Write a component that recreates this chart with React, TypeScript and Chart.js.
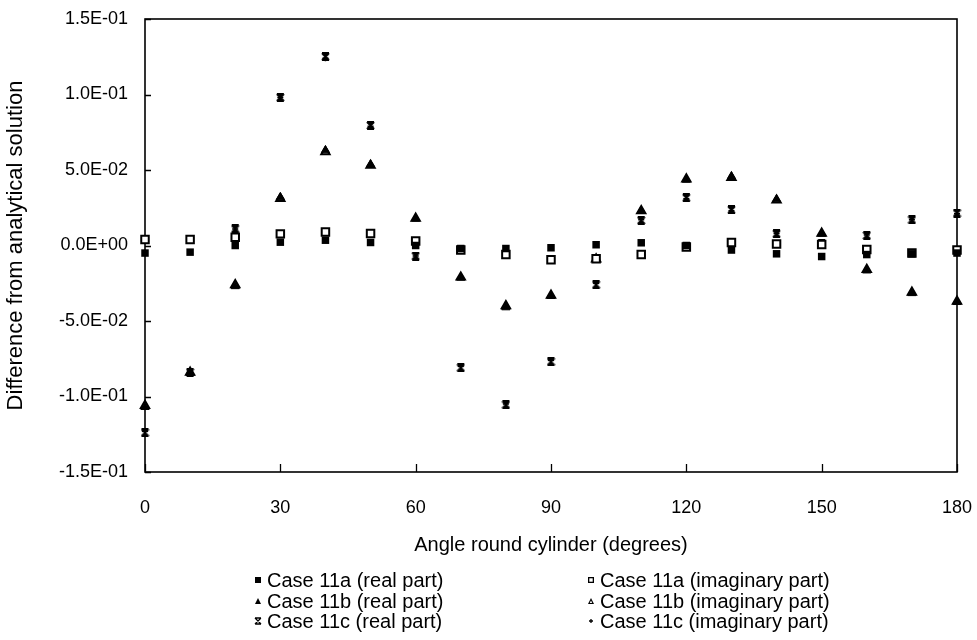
import React, { useEffect, useRef } from "react";
import { Chart, registerables } from "chart.js";

Chart.register(...registerables);

const angles = [0, 10, 20, 30, 40, 50, 60, 70, 80, 90, 100, 110, 120, 130, 140, 150, 160, 170, 180];

const case11aReal = [-0.005, -0.0044, 0.0, 0.0022, 0.0035, 0.002, 0.0, -0.002, -0.002, -0.0015, 0.0005, 0.0018, 0.0, -0.003, -0.0055, -0.0073, -0.006, -0.0055, -0.005];
const case11aImag = [0.004, 0.004, 0.0055, 0.0077, 0.009, 0.008, 0.003, -0.003, -0.006, -0.0095, -0.0088, -0.006, -0.001, 0.002, 0.001, 0.0007, -0.0026, -0.005, -0.003];
const case11bReal = [-0.107, -0.0845, -0.027, 0.032, 0.063, 0.0536, 0.0177, -0.0214, -0.041, -0.0335, -0.009, 0.023, 0.0435, 0.0457, 0.0305, 0.0077, -0.0166, -0.0316, -0.0375];
const case11bImag = [-0.106, -0.084, -0.026, 0.031, 0.062, 0.053, 0.018, -0.021, -0.04, -0.033, -0.009, 0.023, 0.044, 0.045, 0.03, 0.008, -0.016, -0.031, -0.037];
const case11cReal = [-0.124, -0.084, 0.011, 0.098, 0.125, 0.0795, -0.007, -0.081, -0.1055, -0.077, -0.026, 0.0166, 0.0316, 0.0236, 0.0077, 0.001, 0.0066, 0.017, 0.0214];
const case11cImag = [-0.123, -0.084, 0.011, 0.098, 0.124, 0.079, -0.007, -0.08, -0.105, -0.076, -0.025, 0.017, 0.031, 0.023, 0.008, 0.001, 0.007, 0.017, 0.021];

const seriesLabels = [
  "Case 11a (real part)",
  "Case 11a (imaginary part)",
  "Case 11b (real part)",
  "Case 11b (imaginary part)",
  "Case 11c (real part)",
  "Case 11c (imaginary part)",
];

const xTitle = "Angle round cylinder (degrees)";
const yTitle = "Difference from analytical solution";
const yMin = -0.15;
const yMax = 0.15;
const yStep = 0.05;
const xMin = 0;
const xMax = 180;
const xStep = 30;

const FONT = "'Liberation Sans', Arial, sans-serif";

function fmtExp(v: number): string {
  if (Math.abs(v) < 1e-12) return "0.0E+00";
  const s = v.toExponential(1);
  const [mant, ex] = s.split("e");
  const n = parseInt(ex, 10);
  const sign = n < 0 ? "-" : "+";
  const abs = Math.abs(n);
  return mant + "E" + sign + (abs < 10 ? "0" + abs : String(abs));
}

function makeStar(size: number): HTMLCanvasElement {
  const c = document.createElement("canvas");
  c.width = size;
  c.height = size;
  const g = c.getContext("2d")!;
  g.strokeStyle = "#000";
  g.lineWidth = 2;
  const a = 1, b = size - 1, m = size / 2;
  g.beginPath();
  g.moveTo(a, a); g.lineTo(b, a);
  g.moveTo(a, b); g.lineTo(b, b);
  g.moveTo(a, a); g.lineTo(b, b);
  g.moveTo(b, a); g.lineTo(a, b);
  g.moveTo(m, a); g.lineTo(m, b);
  g.stroke();
  return c;
}

function drawMarker(ctx: CanvasRenderingContext2D, kind: string, x: number, y: number, s: number) {
  ctx.save();
  ctx.strokeStyle = "#000";
  ctx.fillStyle = "#000";
  ctx.lineWidth = 1.3;
  const h = s / 2;
  if (kind === "sq") {
    ctx.fillRect(x - h, y - h, s, s);
  } else if (kind === "osq") {
    ctx.fillStyle = "#fff";
    ctx.fillRect(x - h, y - h, s, s);
    ctx.strokeRect(x - h + 0.65, y - h + 0.65, s - 1.3, s - 1.3);
  } else if (kind === "tri" || kind === "otri") {
    ctx.beginPath();
    ctx.moveTo(x, y - h);
    ctx.lineTo(x + h, y + h);
    ctx.lineTo(x - h, y + h);
    ctx.closePath();
    ctx.fill();
    if (kind === "otri") {
      ctx.fillStyle = "#fff";
      ctx.beginPath();
      ctx.moveTo(x, y - h + 2.5);
      ctx.lineTo(x + h - 1.8, y + h - 1.1);
      ctx.lineTo(x - h + 1.8, y + h - 1.1);
      ctx.closePath();
      ctx.fill();
    }
  } else if (kind === "star") {
    ctx.beginPath();
    ctx.moveTo(x - h, y - h); ctx.lineTo(x + h, y - h);
    ctx.moveTo(x - h, y + h); ctx.lineTo(x + h, y + h);
    ctx.moveTo(x - h, y - h); ctx.lineTo(x + h, y + h);
    ctx.moveTo(x + h, y - h); ctx.lineTo(x - h, y + h);
    ctx.stroke();
  } else if (kind === "plus") {
    ctx.beginPath();
    ctx.moveTo(x - h + 1, y); ctx.lineTo(x + h - 1, y);
    ctx.moveTo(x, y - h + 1); ctx.lineTo(x, y + h - 1);
    ctx.stroke();
  }
  ctx.restore();
}

const legendKinds = ["sq", "osq", "tri", "otri", "star", "plus"];

const framePlugin = {
  id: "frameTicks",
  beforeDatasetsDraw(chart: any) {
    const { ctx, chartArea: a, scales } = chart;
    ctx.save();
    ctx.strokeStyle = "#000";
    ctx.lineWidth = 1.6;
    ctx.strokeRect(a.left, a.top, a.right - a.left, a.bottom - a.top);
    ctx.lineWidth = 1.3;
    ctx.beginPath();
    scales.x.ticks.forEach((t: any) => {
      const px = Math.round(scales.x.getPixelForValue(t.value)) + 0.5;
      ctx.moveTo(px, a.bottom);
      ctx.lineTo(px, a.bottom - 8);
    });
    scales.y.ticks.forEach((t: any) => {
      const py = Math.round(scales.y.getPixelForValue(t.value)) + 0.5;
      ctx.moveTo(a.left, py);
      ctx.lineTo(a.left + 6, py);
    });
    ctx.stroke();
    ctx.restore();
  },
};

const legendPlugin = {
  id: "twoColLegend",
  afterDraw(chart: any) {
    const { ctx } = chart;
    const colX = [258, 591];
    const rowY = [580, 601, 621];
    ctx.save();
    ctx.font = `20px ${FONT}`;
    ctx.fillStyle = "#000";
    ctx.textBaseline = "middle";
    ctx.textAlign = "left";
    seriesLabels.forEach((label, i) => {
      const col = i % 2;
      const row = Math.floor(i / 2);
      const x = colX[col];
      const y = rowY[row];
      drawMarker(ctx, legendKinds[i], x, y, 6);
      ctx.fillStyle = "#000";
      ctx.fillText(label, x + 9, y + 1);
    });
    ctx.restore();
  },
};

export default function App() {
  const ref = useRef<HTMLCanvasElement | null>(null);

  useEffect(() => {
    document.body.style.margin = "0";
    const canvas = ref.current;
    if (!canvas) return;
    const star = makeStar(9);
    const mk = (d: number[]) => angles.map((a, i) => ({ x: a, y: d[i] }));

    const chart = new Chart(canvas, {
      type: "scatter",
      data: {
        datasets: [
          {
            label: seriesLabels[0],
            data: mk(case11aReal),
            pointStyle: "rect",
            pointRadius: 5.3,
            backgroundColor: "#000",
            borderColor: "#000",
            borderWidth: 0,
          },
          {
            label: seriesLabels[1],
            data: mk(case11aImag),
            pointStyle: "rect",
            pointRadius: 5.3,
            backgroundColor: "#fff",
            borderColor: "#000",
            borderWidth: 2,
          },
          {
            label: seriesLabels[2],
            data: mk(case11bReal),
            pointStyle: "triangle",
            pointRadius: 4.8,
            backgroundColor: "#000",
            borderColor: "#000",
            borderWidth: 1,
          },
          {
            label: seriesLabels[3],
            data: mk(case11bImag),
            pointStyle: "triangle",
            pointRadius: 4.8,
            backgroundColor: "#fff",
            borderColor: "#000",
            borderWidth: 2,
          },
          {
            label: seriesLabels[4],
            data: mk(case11cReal),
            pointStyle: star as any,
            pointRadius: 4.5,
            backgroundColor: "#000",
            borderColor: "#000",
          },
          {
            label: seriesLabels[5],
            data: mk(case11cImag),
            pointStyle: "cross",
            pointRadius: 3,
            backgroundColor: "#000",
            borderColor: "#000",
            borderWidth: 1.5,
          },
        ] as any,
      },
      options: {
        animation: false,
        responsive: false,
        maintainAspectRatio: false,
        clip: false as any,
        layout: { padding: { top: 19, right: 20, bottom: 83, left: 0 } },
        plugins: {
          legend: { display: false },
          tooltip: { enabled: false },
        },
        scales: {
          x: {
            type: "linear",
            min: xMin,
            max: xMax,
            grid: { display: false, drawTicks: false },
            border: { display: false },
            ticks: {
              stepSize: xStep,
              padding: 25,
              color: "#000",
              font: { family: FONT, size: 18 },
              maxRotation: 0,
            },
            title: {
              display: true,
              text: xTitle,
              color: "#000",
              font: { family: FONT, size: 20 },
              padding: { top: 0, bottom: 0 },
            },
            afterFit(scale: any) {
              scale.height = 85;
              scale.paddingLeft = 0;
              scale.paddingRight = 0;
            },
          },
          y: {
            type: "linear",
            min: yMin,
            max: yMax,
            grid: { display: false, drawTicks: false },
            border: { display: false },
            ticks: {
              stepSize: yStep,
              padding: 17,
              color: "#000",
              font: { family: FONT, size: 18 },
              callback: (v: any) => fmtExp(Number(v)),
            },
            title: {
              display: true,
              text: yTitle,
              color: "#000",
              font: { family: FONT, size: 22 },
              padding: { top: 3, bottom: 0 },
            },
            afterFit(scale: any) {
              scale.width = 145;
              scale.paddingTop = 0;
              scale.paddingBottom = 0;
            },
          },
        },
      },
      plugins: [framePlugin, legendPlugin],
    });
    return () => chart.destroy();
  }, []);

  return (
    <div style={{ width: 977, height: 640, background: "#fff" }}>
      <canvas ref={ref} width={977} height={640} style={{ display: "block" }} />
    </div>
  );
}
